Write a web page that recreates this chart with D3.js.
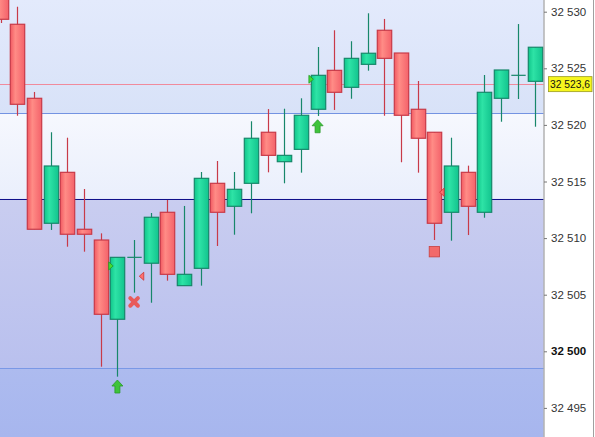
<!DOCTYPE html>
<html><head><meta charset="utf-8">
<script src="https://cdn.jsdelivr.net/npm/d3@7/dist/d3.min.js"></script>
<style>html,body{margin:0;padding:0;background:#fff;overflow:hidden}svg{display:block}</style>
</head><body>
<svg id="c" width="595" height="437"></svg>
<script>
// OHLC data (left to right)
const opens  = [32532.0,32528.89,32522.35,32511.31,32515.81,32510.78,32509.83,32502.83,32508.30,32507.78,32512.28,32505.80,32507.33,32514.84,32512.81,32514.84,32519.35,32516.75,32517.84,32521.38,32524.82,32523.32,32525.35,32528.36,32526.35,32521.38,32519.35,32512.28,32515.81,32512.28,32522.35,32524.38,32523.85];
const highs  = [32533.0,32530.44,32522.91,32519.35,32518.87,32514.34,32510.42,32508.30,32509.83,32512.22,32513.37,32512.84,32515.84,32516.81,32515.84,32520.32,32521.40,32521.43,32522.35,32526.88,32528.36,32527.39,32529.86,32529.36,32526.35,32523.88,32519.35,32518.87,32516.40,32524.41,32524.85,32528.91,32526.86];
const lows   = [32529.0,32520.81,32510.78,32510.72,32509.24,32508.80,32498.64,32497.76,32505.18,32504.29,32506.24,32505.80,32505.80,32509.30,32510.30,32512.19,32515.81,32514.84,32515.78,32520.79,32521.32,32522.31,32524.79,32520.81,32516.70,32515.78,32509.83,32509.77,32510.27,32511.80,32520.28,32522.29,32519.84];
const closes = [32529.33,32521.82,32510.78,32516.37,32510.34,32510.34,32503.27,32508.30,32508.30,32511.84,32506.80,32506.80,32515.28,32512.28,32514.31,32518.82,32517.31,32517.31,32520.85,32524.38,32522.88,32525.88,32526.33,32525.88,32520.85,32518.82,32511.31,32516.37,32512.81,32522.88,32524.85,32524.38,32526.86];
const yTicks = [32530,32525,32520,32515,32510,32505,32500,32495];
const currentPrice = 32523.6;
const levelLines = [
  {v:32523.6, c:"#f08a9c"},
  {v:32521.03, c:"#7393e2"},
  {v:32513.48, c:"#10108a"},
  {v:32498.50, c:"#7a98e6"}
];
// signal markers: [candleIndex, price, type]
const markers = [
  [7, 32507.54, "triR"],
  [8, 32504.36, "x"],
  [8, 32506.63, "triL"],
  [7, 32496.89, "up"],
  [19, 32524.03, "triR"],
  [19, 32519.88, "up"],
  [26, 32508.80, "sq"],
  [26, 32514.05, "triL"]
];

const W=595,H=437,plotR=543.5;
const svg=d3.select("#c");
const x=d3.scaleLinear().domain([0,32]).range([0.6,534.5]);
const y=d3.scaleLinear().domain([32530,32495]).range([11.7,407.9]);
const bw=14.4;

const defs=svg.append("defs");
function lg(id,stops,vert){const g=defs.append("linearGradient").attr("id",id);
  if(vert)g.attr("x1",0).attr("y1",0).attr("x2",0).attr("y2",1);
  stops.forEach(s=>g.append("stop").attr("offset",s[0]).attr("stop-color",s[1]));}
lg("gRed",[[0,"#f25a62"],[0.35,"#ff8c86"],[1,"#f4626a"]]);
lg("gGreen",[[0,"#10c68a"],[0.35,"#2ee3a6"],[1,"#12c48e"]]);
lg("bg1",[[0,"#e3eafc"],[1,"#d8e2f8"]],true);
lg("bg2",[[0,"#f6f8fe"],[1,"#eaeffc"]],true);
lg("bg3",[[0,"#c9cdf0"],[1,"#b9c0ee"]],true);
lg("bg4",[[0,"#adbbef"],[1,"#a7b6ee"]],true);

const yA=y(32521.03),yB=y(32513.48),yC=y(32498.50);
svg.append("rect").attr("x",0).attr("y",0).attr("width",plotR).attr("height",yA).attr("fill","url(#bg1)");
svg.append("rect").attr("x",0).attr("y",yA).attr("width",plotR).attr("height",yB-yA).attr("fill","url(#bg2)");
svg.append("rect").attr("x",0).attr("y",yB).attr("width",plotR).attr("height",yC-yB).attr("fill","url(#bg3)");
svg.append("rect").attr("x",0).attr("y",yC).attr("width",plotR).attr("height",H-yC).attr("fill","url(#bg4)");

levelLines.forEach(l=>{
  svg.append("line").attr("x1",0).attr("x2",plotR).attr("y1",Math.round(y(l.v))+0.5).attr("y2",Math.round(y(l.v))+0.5)
    .attr("stroke",l.c).attr("stroke-width",1);
});

const data=opens.map((o,i)=>({i,o,h:highs[i],l:lows[i],c:closes[i]}));
const g=svg.append("g");
data.forEach(d=>{
  const up=d.c>=d.o;
  const stroke=up?"#17876a":"#c83a48";
  const cx=Math.round(x(d.i))+0.5;
  g.append("line").attr("x1",cx).attr("x2",cx).attr("y1",y(d.h)).attr("y2",y(d.l)).attr("stroke",stroke).attr("stroke-width",1.2);
  const top=y(Math.max(d.o,d.c)),bot=y(Math.min(d.o,d.c));
  if(bot-top<1.2){
    g.append("line").attr("x1",cx-bw/2).attr("x2",cx+bw/2).attr("y1",top).attr("y2",top).attr("stroke",stroke).attr("stroke-width",1.2);
  } else {
    g.append("rect").attr("x",cx-bw/2).attr("y",top).attr("width",bw).attr("height",bot-top)
      .attr("fill",up?"url(#gGreen)":"url(#gRed)").attr("stroke",stroke).attr("stroke-width",1.2);
  }
});

const mg=svg.append("g");
markers.forEach(([i,v,t])=>{
  const cx=x(i),cy=y(v);
  if(t==="triR"){
    const lx=cx-bw/2-1.5;
    mg.append("path").attr("d",`M${lx},${cy-4}L${lx+4.5},${cy}L${lx},${cy+4}Z`).attr("fill","#44dd33").attr("stroke","#229922").attr("stroke-width",0.8);
  } else if(t==="triL"){
    const rx=cx+bw/2+2.5;
    mg.append("path").attr("d",`M${rx},${cy-4}L${rx-4.5},${cy}L${rx},${cy+4}Z`).attr("fill","#ff7070").attr("stroke","#cc3333").attr("stroke-width",0.8);
  } else if(t==="x"){
    const s=3.8;
    mg.append("path").attr("d",`M${cx-s},${cy-s}L${cx+s},${cy+s}M${cx+s},${cy-s}L${cx-s},${cy+s}`).attr("stroke","#e85a5a").attr("stroke-width",4).attr("stroke-linecap","round");
  } else if(t==="up"){
    const p=`M${cx},${cy-6.5}L${cx+5.5},${cy-0.5}L${cx+2.5},${cy-0.5}L${cx+2.5},${cy+6.5}L${cx-2.5},${cy+6.5}L${cx-2.5},${cy-0.5}L${cx-5.5},${cy-0.5}Z`;
    mg.append("path").attr("d",p).attr("fill","#3ec43a").attr("stroke","#2a9a2a").attr("stroke-width",0.8);
  } else if(t==="sq"){
    mg.append("rect").attr("x",cx-5.2).attr("y",cy-5.2).attr("width",10.4).attr("height",10.4).attr("fill","#f26a6a").attr("stroke","#c84040").attr("stroke-width",0.8);
  }
});

// right axis
svg.append("rect").attr("x",plotR+0.5).attr("y",0).attr("width",W-plotR).attr("height",H).attr("fill","#ffffff");
svg.append("line").attr("x1",544).attr("x2",544).attr("y1",0).attr("y2",H).attr("stroke","#8c8c8c");
svg.append("line").attr("x1",593.5).attr("x2",593.5).attr("y1",0).attr("y2",H).attr("stroke","#a0a0a0");
const fmt=v=>d3.format(",")(v).replace(/,/g," ");
const ax=svg.append("g").attr("transform","translate(544,0)");
const axis=d3.axisRight(y).tickValues(yTicks).tickSize(3).tickPadding(4).tickFormat(fmt);
ax.call(axis);
ax.select(".domain").remove();
ax.selectAll(".tick line").attr("stroke","#777");
ax.selectAll(".tick text").attr("font-family","Arial, 'Liberation Sans', sans-serif").attr("font-size","11.5px")
  .attr("font-weight",d=>d===32500?"bold":"normal").attr("fill",d=>d===32500?"#111":"#333");

const cy=y(currentPrice);
svg.append("rect").attr("x",548.5).attr("y",cy-7.5).attr("width",43.5).attr("height",15).attr("fill","#f6f61e").attr("stroke","#9a9a20").attr("stroke-width",0.8);
svg.append("text").attr("x",550).attr("y",cy).attr("dy","0.35em").attr("font-family","Arial, 'Liberation Sans', sans-serif").attr("font-size","11px").attr("fill","#111")
  .attr("textLength",40).attr("lengthAdjust","spacingAndGlyphs")
  .text(d3.format(".1f")(currentPrice).replace(/\B(?=(\d{3})+(?!\d))/g," ").replace(".",","));
</script>
</body></html>
